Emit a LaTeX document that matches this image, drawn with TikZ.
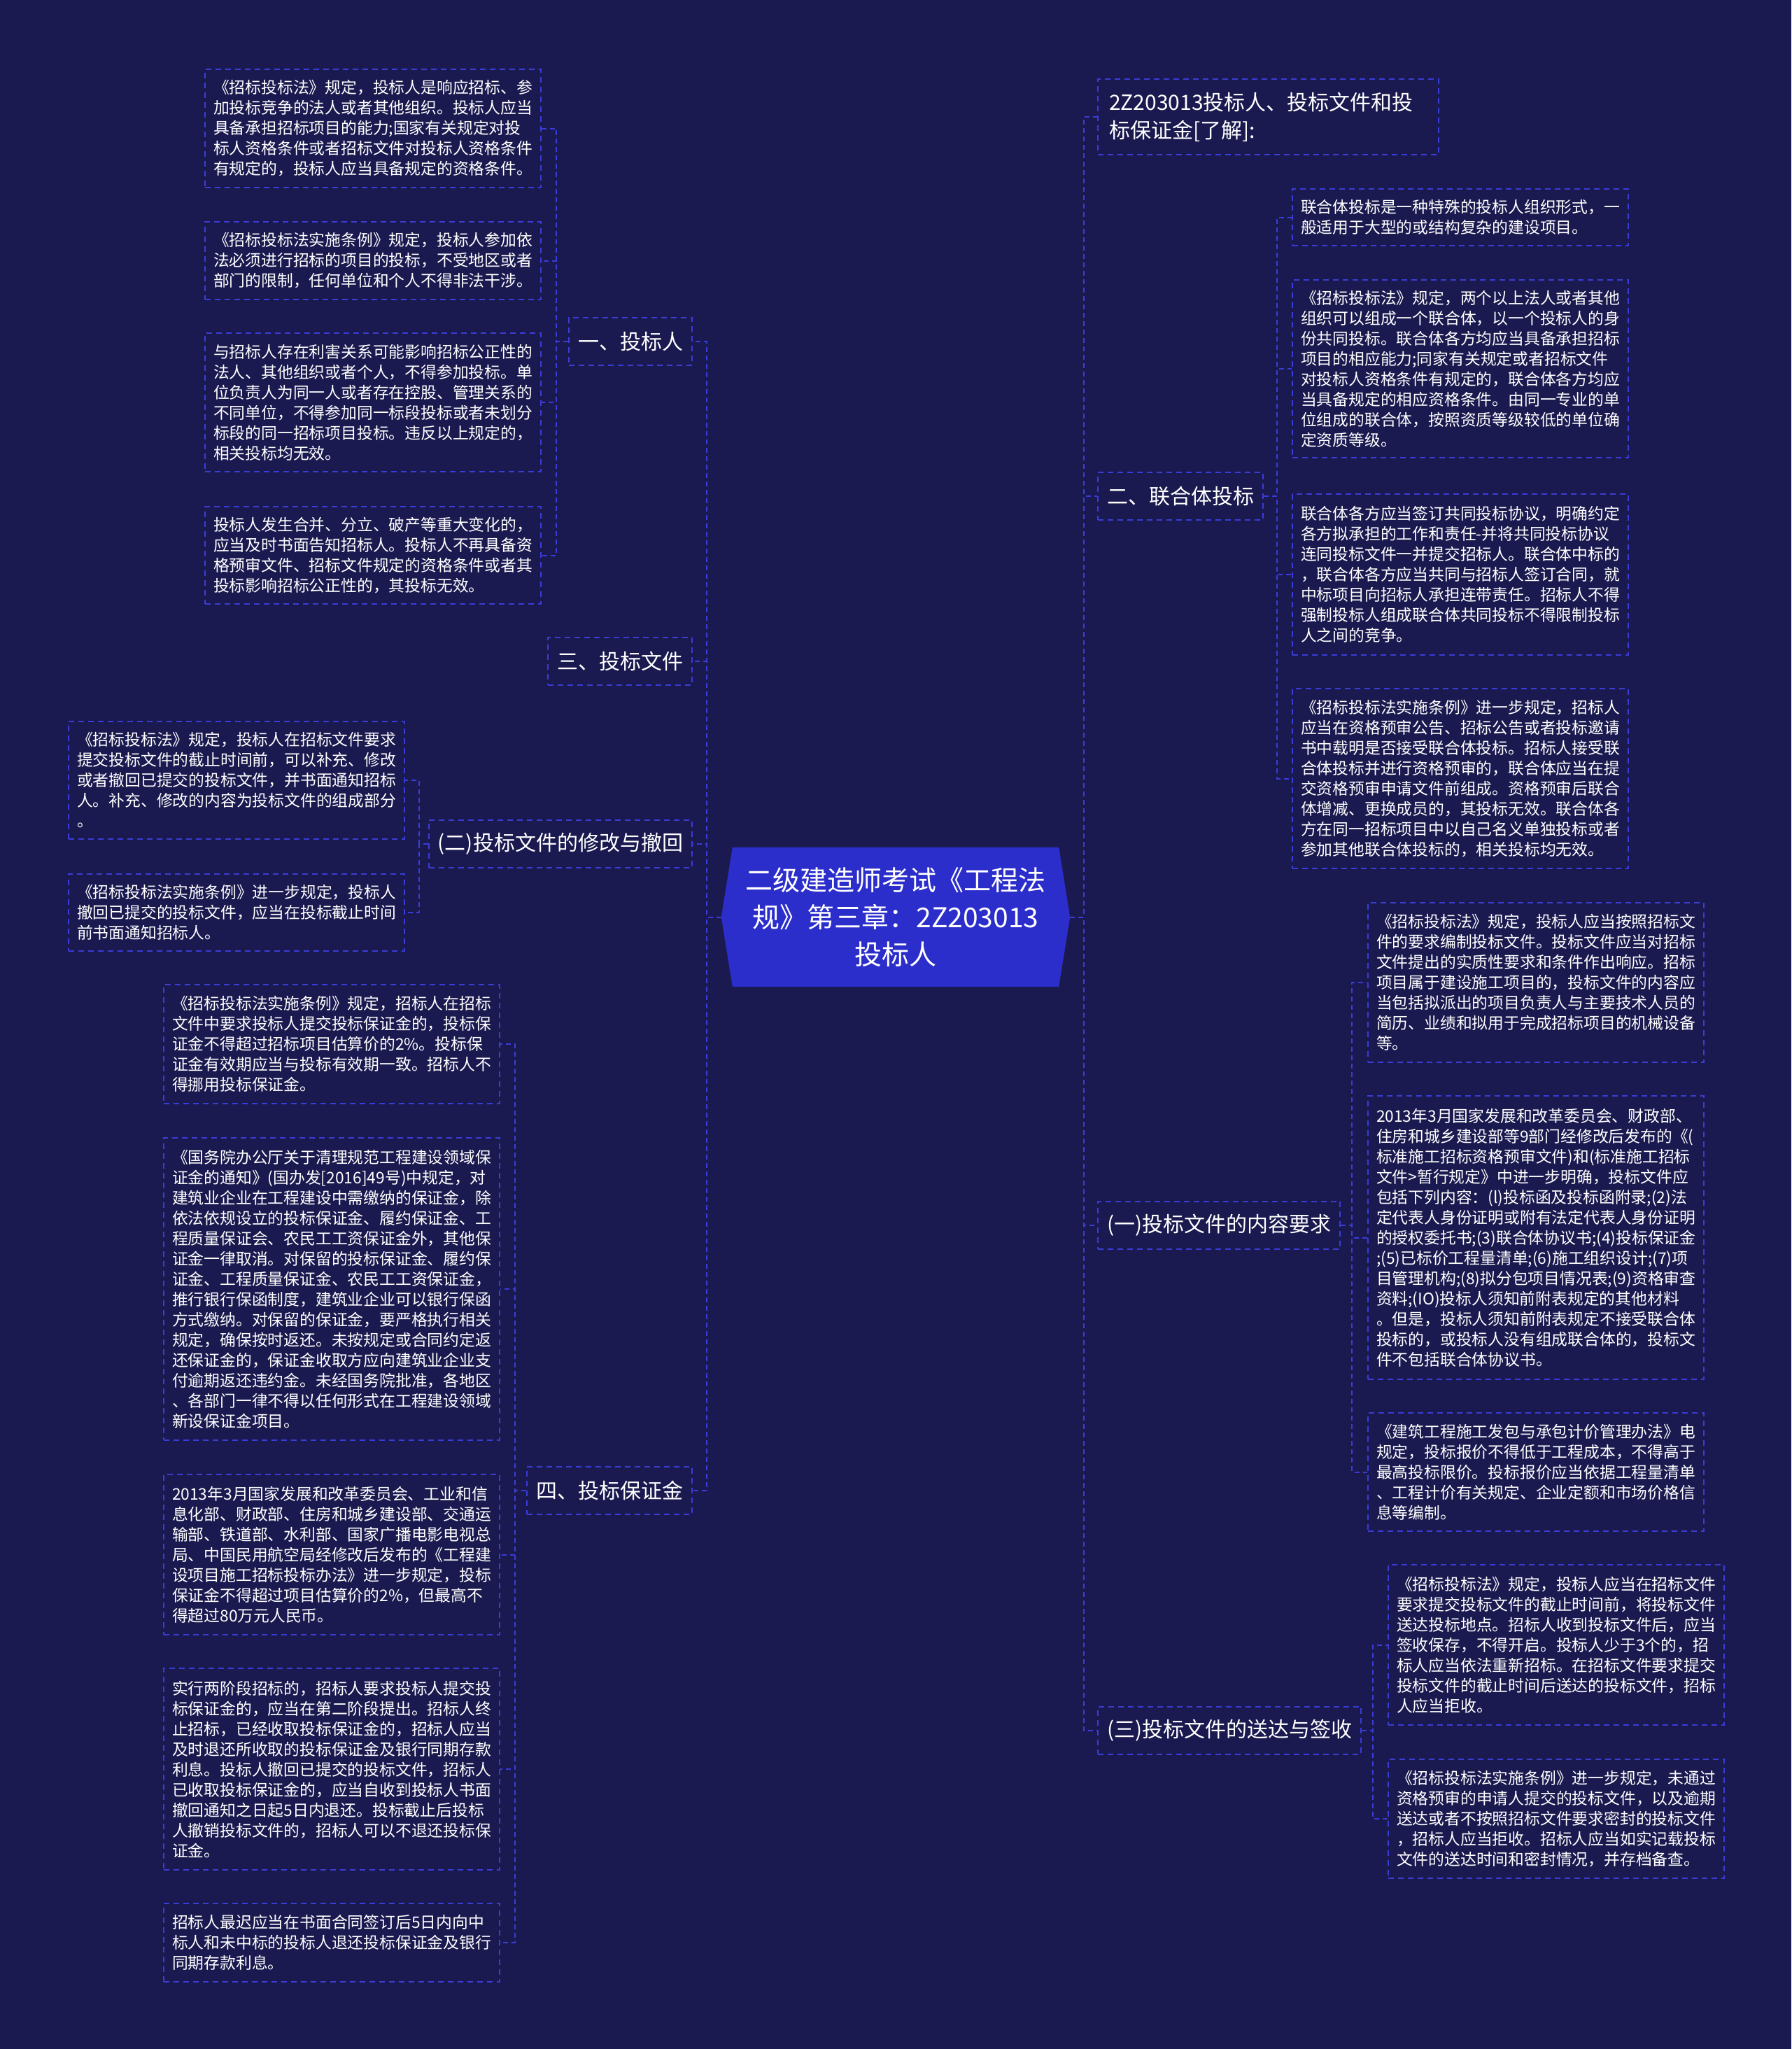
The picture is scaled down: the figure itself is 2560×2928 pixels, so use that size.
\documentclass[tikz,border=0pt]{standalone}
\usepackage{fontspec}
\newfontfamily\cjk{Noto Sans CJK SC}
\definecolor{bgc}{RGB}{27,26,80}
\definecolor{linec}{RGB}{58,60,214}
\definecolor{rootc}{RGB}{44,46,204}
\pgfdeclarelayer{bglayer}
\pgfdeclarelayer{shapelayer}
\pgfsetlayers{bglayer,shapelayer,main}
\begin{document}
\begin{tikzpicture}[x=1pt,y=-1pt,
  conn/.style={draw=linec, line width=2pt, dash pattern=on 7pt off 5pt},
  detail/.style={draw=linec, line width=2pt, dash pattern=on 8pt off 6pt, text=white,
    font=\cjk\fontsize{22.8}{29}\selectfont, align=left, text width=456pt,
    inner xsep=12pt, inner ysep=0pt, anchor=north west, minimum width=480pt},
  branch/.style={draw=linec, line width=2pt, dash pattern=on 8pt off 6pt, text=white,
    font=\cjk\fontsize{30}{40}\selectfont, inner xsep=13pt, inner ysep=0pt, minimum height=68pt},
  rootnode/.style={text=white, font=\cjk\fontsize{39}{53}\selectfont, align=center,
    minimum width=498pt, minimum height=199pt, inner sep=0pt}
]
\useasboundingbox (0,0) rectangle (2560,2928);
\begin{pgfonlayer}{bglayer}
\fill[bgc] (0,0) rectangle (2560,2928);
\end{pgfonlayer}

% root
\node[rootnode] (root) at (1280,1310.5) {二级建造师考试《工程法\\规》第三章：2Z203013\\投标人};
\begin{pgfonlayer}{shapelayer}
\fill[rootc] (root.west) -- ([xshift=16pt]root.north west) -- ([xshift=-16pt]root.north east)
  -- (root.east) -- ([xshift=-16pt]root.south east) -- ([xshift=16pt]root.south west) -- cycle;
\end{pgfonlayer}

% left branches
\node[branch, anchor=east] (L1) at (990,488) {一、投标人};
\node[branch, anchor=east] (L3) at (990,945) {三、投标文件};
\node[branch, anchor=east] (L2) at (990,1206) {(二)投标文件的修改与撤回};
\node[branch, anchor=east] (L4) at (990,2130) {四、投标保证金};

% right branches
\node[branch, anchor=north west, align=left, text width=455pt, inner xsep=16pt, minimum height=108pt] (R0) at (1568,112) {2Z203013投标人、投标文件和投\\标保证金[了解]:};
\node[branch, anchor=west] (R1) at (1568,709) {二、联合体投标};
\node[branch, anchor=west] (R2) at (1568,1751) {(一)投标文件的内容要求};
\node[branch, anchor=west] (R3) at (1568,2473) {(三)投标文件的送达与签收};

% details of L1
\node[detail, minimum height=169pt] (d11) at (292,98) {《招标投标法》规定，投标人是响应招标、参\\加投标竞争的法人或者其他组织。投标人应当\\具备承担招标项目的能力;国家有关规定对投\\标人资格条件或者招标文件对投标人资格条件\\有规定的，投标人应当具备规定的资格条件。};
\node[detail, minimum height=111pt] (d12) at (292,316) {《招标投标法实施条例》规定，投标人参加依\\法必须进行招标的项目的投标，不受地区或者\\部门的限制，任何单位和个人不得非法干涉。};
\node[detail, minimum height=198pt] (d13) at (292,475) {与招标人存在利害关系可能影响招标公正性的\\法人、其他组织或者个人，不得参加投标。单\\位负责人为同一人或者存在控股、管理关系的\\不同单位，不得参加同一标段投标或者未划分\\标段的同一招标项目投标。违反以上规定的，\\相关投标均无效。};
\node[detail, minimum height=139pt] (d14) at (292,723) {投标人发生合并、分立、破产等重大变化的，\\应当及时书面告知招标人。投标人不再具备资\\格预审文件、招标文件规定的资格条件或者其\\投标影响招标公正性的，其投标无效。};

% details of L2
\node[detail, minimum height=168pt] (d21) at (97,1030) {《招标投标法》规定，投标人在招标文件要求\\提交投标文件的截止时间前，可以补充、修改\\或者撤回已提交的投标文件，并书面通知招标\\人。补充、修改的内容为投标文件的组成部分\\。};
\node[detail, minimum height=110pt] (d22) at (97,1248) {《招标投标法实施条例》进一步规定，投标人\\撤回已提交的投标文件，应当在投标截止时间\\前书面通知招标人。};

% details of L4
\node[detail, minimum height=170pt] (d41) at (233,1406) {《招标投标法实施条例》规定，招标人在招标\\文件中要求投标人提交投标保证金的，投标保\\证金不得超过招标项目估算价的2\%。投标保\\证金有效期应当与投标有效期一致。招标人不\\得挪用投标保证金。};
\node[detail, minimum height=432pt] (d42) at (233,1625) {《国务院办公厅关于清理规范工程建设领域保\\证金的通知》(国办发[2016]49号)中规定，对\\建筑业企业在工程建设中需缴纳的保证金，除\\依法依规设立的投标保证金、履约保证金、工\\程质量保证会、农民工工资保证金外，其他保\\证金一律取消。对保留的投标保证金、履约保\\证金、工程质量保证金、农民工工资保证金，\\推行银行保函制度，建筑业企业可以银行保函\\方式缴纳。对保留的保证金，要严格执行相关\\规定，确保按时返还。未按规定或合同约定返\\还保证金的，保证金收取方应向建筑业企业支\\付逾期返还违约金。未经国务院批准，各地区\\、各部门一律不得以任何形式在工程建设领域\\新设保证金项目。};
\node[detail, minimum height=229pt] (d43) at (233,2106) {2013年3月国家发展和改革委员会、工业和信\\息化部、财政部、住房和城乡建设部、交通运\\输部、铁道部、水利部、国家广播电影电视总\\局、中国民用航空局经修改后发布的《工程建\\设项目施工招标投标办法》进一步规定，投标\\保证金不得超过项目估算价的2\%，但最高不\\得超过80万元人民币。};
\node[detail, minimum height=288pt] (d44) at (233,2383) {实行两阶段招标的，招标人要求投标人提交投\\标保证金的，应当在第二阶段提出。招标人终\\止招标，已经收取投标保证金的，招标人应当\\及时退还所收取的投标保证金及银行同期存款\\利息。投标人撤回已提交的投标文件，招标人\\已收取投标保证金的，应当自收到投标人书面\\撤回通知之日起5日内退还。投标截止后投标\\人撤销投标文件的，招标人可以不退还投标保\\证金。};
\node[detail, minimum height=112pt] (d45) at (233,2719) {招标人最迟应当在书面合同签订后5日内向中\\标人和未中标的投标人退还投标保证金及银行\\同期存款利息。};

% details of R1
\node[detail, minimum height=81pt] (e11) at (1846,269) {联合体投标是一种特殊的投标人组织形式，一\\般适用于大型的或结构复杂的建设项目。};
\node[detail, minimum height=254pt] (e12) at (1846,399) {《招标投标法》规定，两个以上法人或者其他\\组织可以组成一个联合体，以一个投标人的身\\份共同投标。联合体各方均应当具备承担招标\\项目的相应能力;同家有关规定或者招标文件\\对投标人资格条件有规定的，联合体各方均应\\当具备规定的相应资格条件。由同一专业的单\\位组成的联合体，按照资质等级较低的单位确\\定资质等级。};
\node[detail, minimum height=230pt] (e13) at (1846,705) {联合体各方应当签订共同投标协议，明确约定\\各方拟承担的工作和责任-并将共同投标协议\\连同投标文件一并提交招标人。联合体中标的\\，联合体各方应当共同与招标人签订合同，就\\中标项目向招标人承担连带责任。招标人不得\\强制投标人组成联合体共同投标不得限制投标\\人之间的竞争。};
\node[detail, minimum height=257pt] (e14) at (1846,983) {《招标投标法实施条例》进一步规定，招标人\\应当在资格预审公告、招标公告或者投标邀请\\书中载明是否接受联合体投标。招标人接受联\\合体投标并进行资格预审的，联合体应当在提\\交资格预审申请文件前组成。资格预审后联合\\体增减、更换成员的，其投标无效。联合体各\\方在同一招标项目中以自己名义单独投标或者\\参加其他联合体投标的，相关投标均无效。};

% details of R2
\node[detail, minimum height=228pt] (e21) at (1954,1289) {《招标投标法》规定，投标人应当按照招标文\\件的要求编制投标文件。投标文件应当对招标\\文件提出的实质性要求和条件作出响应。招标\\项目属于建设施工项目的，投标文件的内容应\\当包括拟派出的项目负责人与主要技术人员的\\简历、业绩和拟用于完成招标项目的机械设备\\等。};
\node[detail, minimum height=405pt] (e22) at (1954,1565) {2013年3月国家发展和改革委员会、财政部、\\住房和城乡建设部等9部门经修改后发布的《(\\标准施工招标资格预审文件)和(标准施工招标\\文件>暂行规定》中进一步明确，投标文件应\\包括下列内容：(l)投标函及投标函附录;(2)法\\定代表人身份证明或附有法定代表人身份证明\\的授权委托书;(3)联合体协议书;(4)投标保证金\\;(5)已标价工程量清单;(6)施工组织设计;(7)项\\目管理机构;(8)拟分包项目情况表;(9)资格审查\\资料;(IO)投标人须知前附表规定的其他材料\\。但是，投标人须知前附表规定不接受联合体\\投标的，或投标人没有组成联合体的，投标文\\件不包括联合体协议书。};
\node[detail, minimum height=169pt] (e23) at (1954,2018) {《建筑工程施工发包与承包计价管理办法》电\\规定，投标报价不得低于工程成本，不得高于\\最高投标限价。投标报价应当依据工程量清单\\、工程计价有关规定、企业定额和市场价格信\\息等编制。};

% details of R3
\node[detail, minimum height=229pt] (e31) at (1983,2235) {《招标投标法》规定，投标人应当在招标文件\\要求提交投标文件的截止时间前，将投标文件\\送达投标地点。招标人收到投标文件后，应当\\签收保存，不得开启。投标人少于3个的，招\\标人应当依法重新招标。在招标文件要求提交\\投标文件的截止时间后送达的投标文件，招标\\人应当拒收。};
\node[detail, minimum height=170pt] (e32) at (1983,2513) {《招标投标法实施条例》进一步规定，未通过\\资格预审的申请人提交的投标文件，以及逾期\\送达或者不按照招标文件要求密封的投标文件\\，招标人应当拒收。招标人应当如实记载投标\\文件的送达时间和密封情况，并存档备查。};

% spine coordinates
\coordinate (sL1) at ([xshift=21pt]d11.east);
\coordinate (sL2) at ([xshift=20pt]d21.east);
\coordinate (sL4) at ([xshift=21pt]d41.east);
\coordinate (sR1) at ([xshift=-21pt]e11.west);
\coordinate (sR2) at ([xshift=-22pt]e21.west);
\coordinate (sR3) at ([xshift=-21pt]e31.west);

% root connectors
\foreach \c in {L1,L3,L2,L4} \draw[conn] (root.west) -- ++(-20.5,0) |- (\c.east);
\foreach \c in {R0,R1,R2,R3} \draw[conn] (root.east) -- ++(19.5,0) |- (\c.west);

% branch connectors
\foreach \c in {d11,d12,d13,d14} \draw[conn] (L1.west) -- (L1.west -| sL1) |- (\c.east);
\foreach \c in {d21,d22} \draw[conn] (L2.west) -- (L2.west -| sL2) |- (\c.east);
\foreach \c in {d41,d42,d43,d44,d45} \draw[conn] (L4.west) -- (L4.west -| sL4) |- (\c.east);
\foreach \c in {e11,e12,e13,e14} \draw[conn] (R1.east) -- (R1.east -| sR1) |- (\c.west);
\foreach \c in {e21,e22,e23} \draw[conn] (R2.east) -- (R2.east -| sR2) |- (\c.west);
\foreach \c in {e31,e32} \draw[conn] (R3.east) -- (R3.east -| sR3) |- (\c.west);
\end{tikzpicture}
\end{document}
